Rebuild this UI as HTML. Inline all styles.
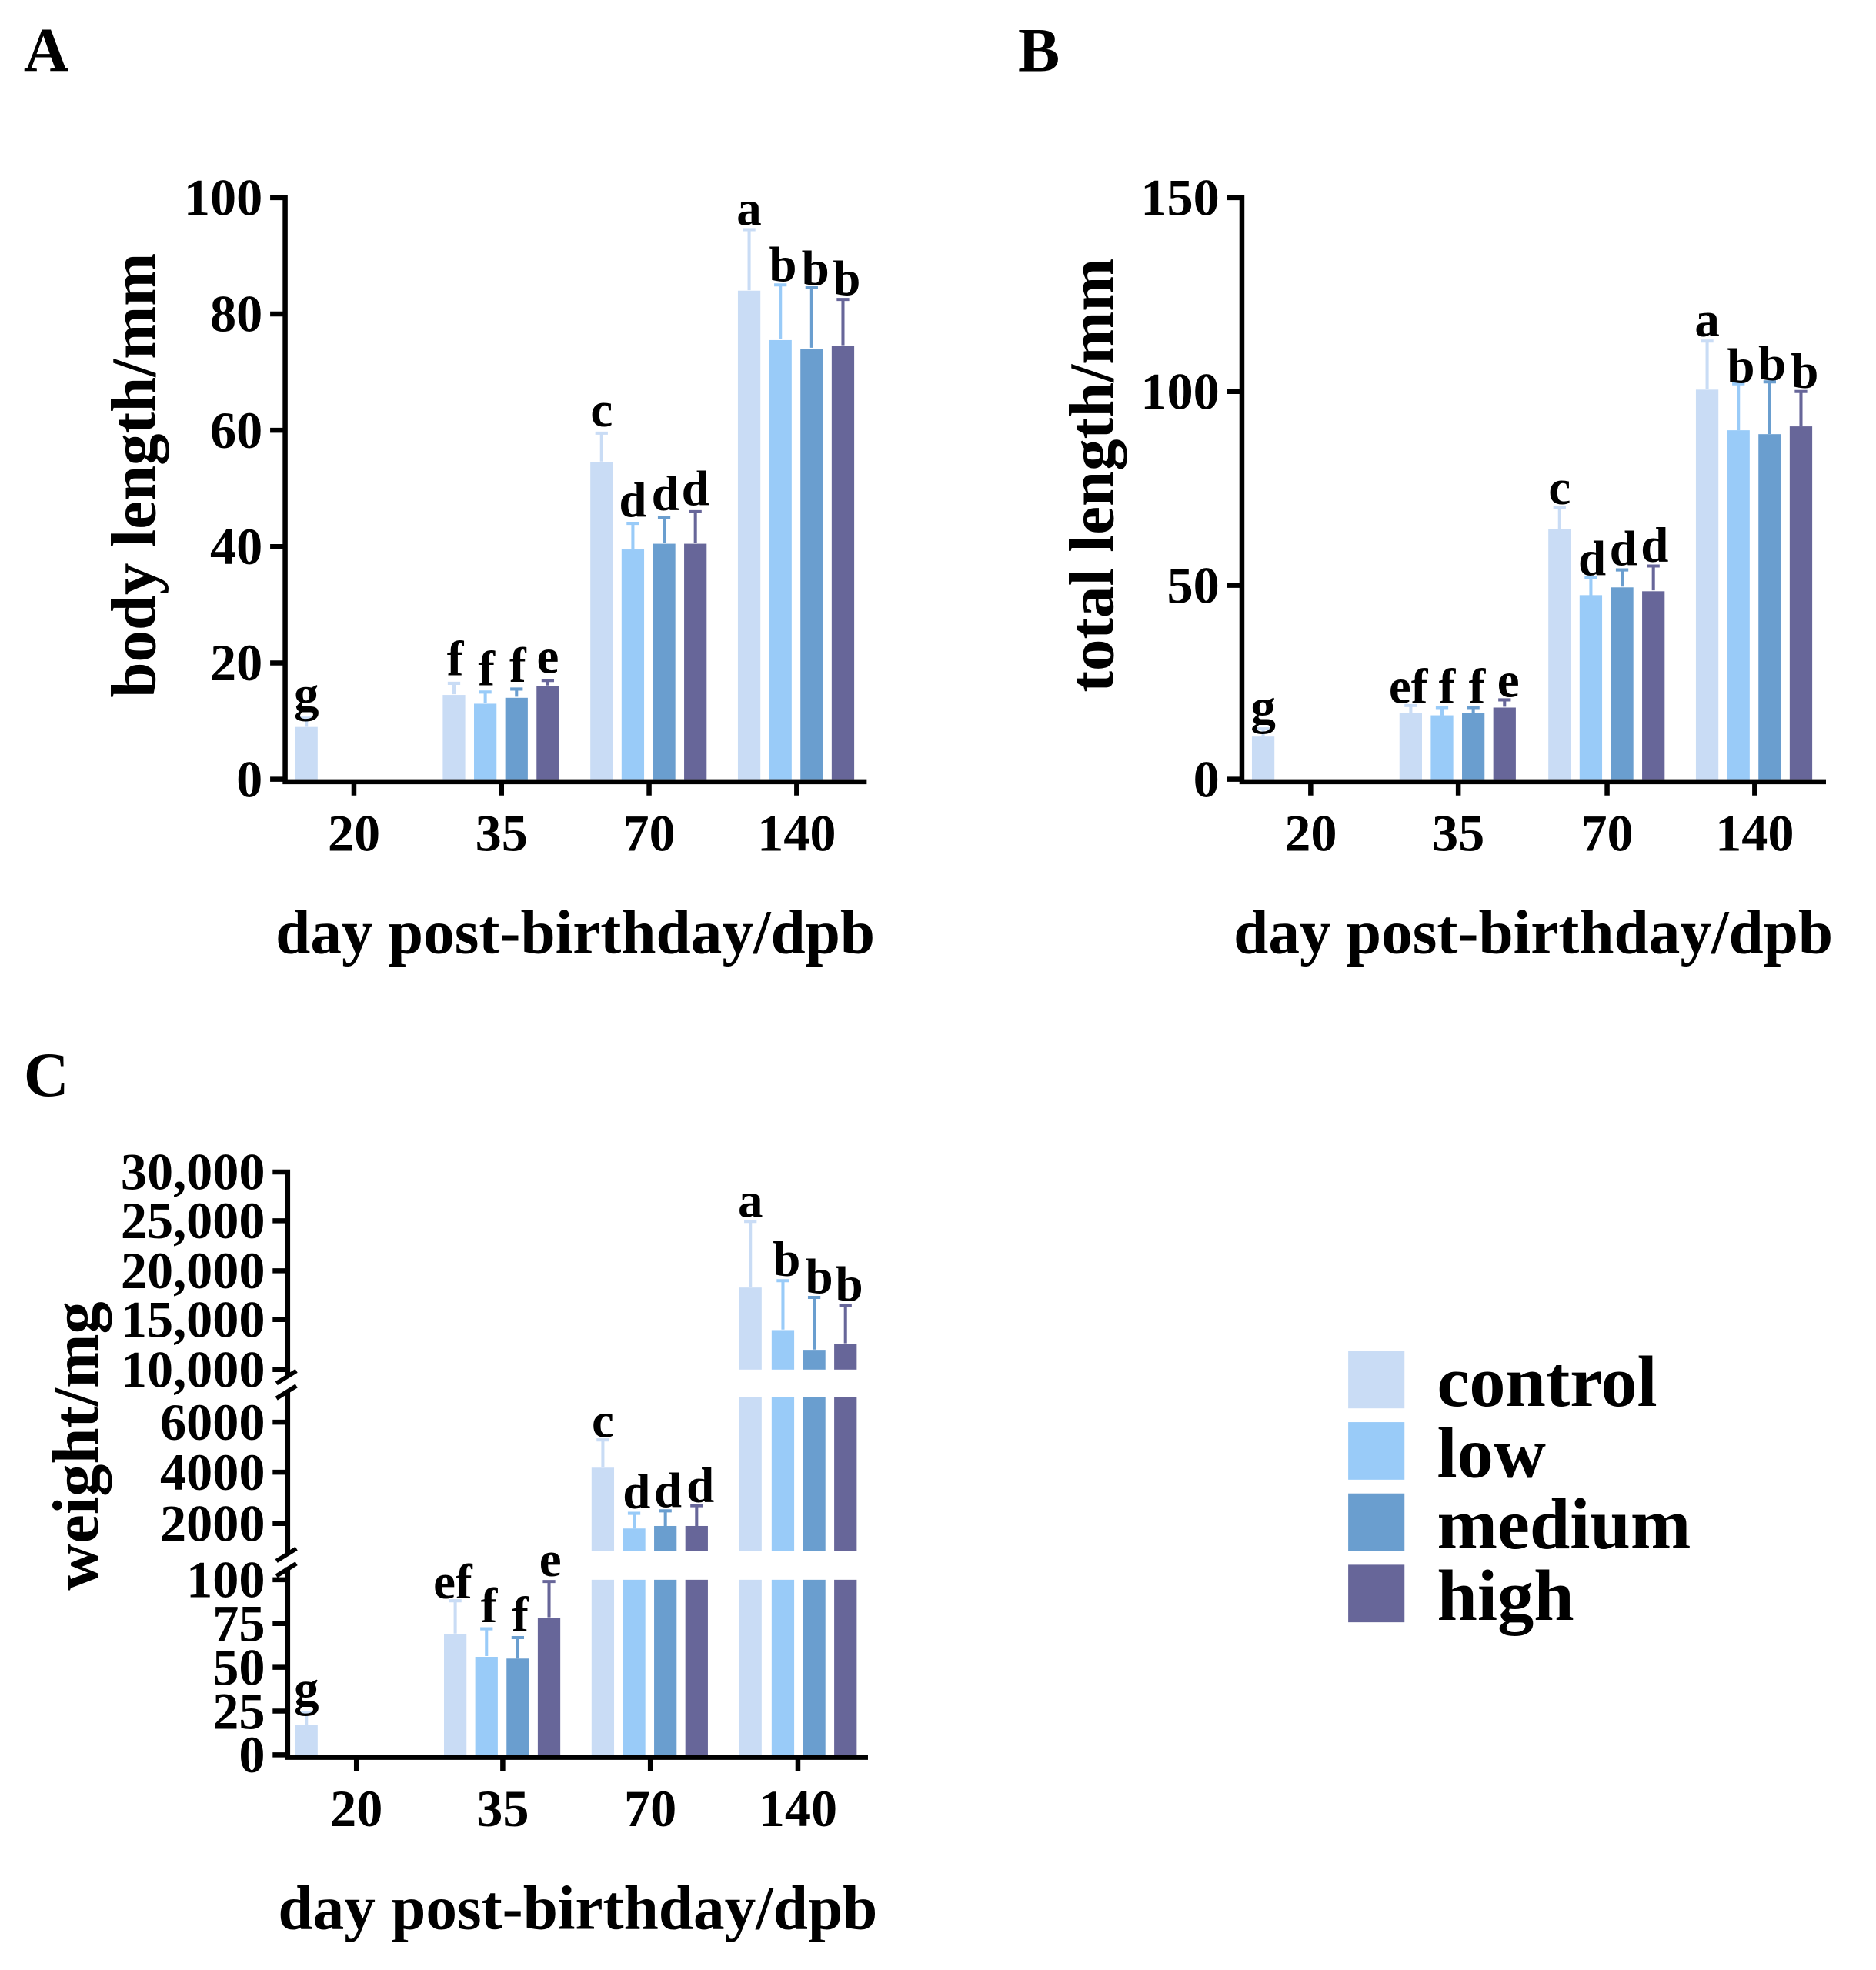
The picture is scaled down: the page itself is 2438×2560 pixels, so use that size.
<!DOCTYPE html>
<html><head><meta charset="utf-8"><style>html,body{margin:0;padding:0;background:#fff}svg{display:block}</style></head><body>
<svg width="2438" height="2560" viewBox="0 0 1500 1575" preserveAspectRatio="none" xmlns="http://www.w3.org/2000/svg" font-family="Liberation Serif, serif" font-weight="bold">
<rect width="1500" height="1575" fill="#fff"/>
<g font-size="50"><text x="19" y="57">A</text><text x="814" y="57">B</text><text x="19" y="876">C</text></g>

<!-- Panel A -->
<g>
<g fill="#c9dcf5"><rect x="236" y="581.2" width="18" height="41.8"/><rect x="354" y="555.6" width="18" height="67.4"/><rect x="472" y="369.6" width="18" height="253.4"/><rect x="590" y="232.4" width="18" height="390.6"/></g>
<g fill="#99cbf8"><rect x="379" y="562.6" width="18" height="60.4"/><rect x="497" y="439.3" width="18" height="183.7"/><rect x="615" y="271.9" width="18" height="351.1"/></g>
<g fill="#6a9ecf"><rect x="404" y="557.9" width="18" height="65.1"/><rect x="522" y="434.7" width="18" height="188.3"/><rect x="640" y="278.9" width="18" height="344.1"/></g>
<g fill="#676699"><rect x="429" y="548.6" width="18" height="74.4"/><rect x="547" y="434.7" width="18" height="188.3"/><rect x="665" y="276.6" width="18" height="346.4"/></g>
<g stroke-width="2.5" fill="none">
<path stroke="#c9dcf5" d="M245 581V574.2M240 574.2H250M363 555V546.3M358 546.3H368M481 369V346.3M476 346.3H486M599 232V183.6M594 183.6H604"/>
<path stroke="#99cbf8" d="M388 562V553.3M383 553.3H393M506 439V418.4M501 418.4H511M624 271V227.8M619 227.8H629"/>
<path stroke="#6a9ecf" d="M413 557V550.9M408 550.9H418M531 434V413.8M526 413.8H536M649 278V230.1M644 230.1H654"/>
<path stroke="#676699" d="M438 548V544M433 544H443M556 434V409.1M551 409.1H561M674 276V239.4M669 239.4H679"/>
</g>
<g font-size="40" text-anchor="middle">
<text x="245" y="568">g</text><text x="364" y="540">f</text><text x="389" y="548">f</text><text x="414" y="545">f</text><text x="438" y="538">e</text>
<text x="481" y="341">c</text><text x="506" y="413">d</text><text x="532" y="408">d</text><text x="556" y="404">d</text>
<text x="599" y="180">a</text><text x="626" y="225">b</text><text x="652" y="228">b</text><text x="677" y="236">b</text>
</g>
<path d="M228 156V625H693M216 158H228M216 251H228M216 344H228M216 437H228M216 530H228M216 623H228M283 623V636M401 623V636M519 623V636M637 623V636" stroke="#000" stroke-width="4" fill="none"/>
<g font-size="42" text-anchor="end"><text x="210" y="172">100</text><text x="210" y="265">80</text><text x="210" y="358">60</text><text x="210" y="451">40</text><text x="210" y="544">20</text><text x="210" y="637">0</text></g>
<g font-size="42" text-anchor="middle"><text x="283" y="680">20</text><text x="401" y="680">35</text><text x="519" y="680">70</text><text x="637" y="680">140</text></g>
<text x="460" y="762" font-size="50" text-anchor="middle">day post-birthday/dpb</text>
<text transform="translate(124,380) rotate(-90)" font-size="51" text-anchor="middle">body length/mm</text>
</g>

<!-- Panel B -->
<g>
<g fill="#c9dcf5"><rect x="1001" y="588.9" width="18" height="34.1"/><rect x="1119" y="570.3" width="18" height="52.7"/><rect x="1238" y="423.1" width="18" height="199.9"/><rect x="1356" y="311.5" width="18" height="311.5"/></g>
<g fill="#99cbf8"><rect x="1144" y="571.9" width="18" height="51.1"/><rect x="1263" y="475.8" width="18" height="147.2"/><rect x="1381" y="344" width="18" height="279"/></g>
<g fill="#6a9ecf"><rect x="1169" y="570.3" width="18" height="52.7"/><rect x="1288" y="469.6" width="18" height="153.4"/><rect x="1406" y="347.1" width="18" height="275.9"/></g>
<g fill="#676699"><rect x="1194" y="565.7" width="18" height="57.3"/><rect x="1313" y="472.7" width="18" height="150.3"/><rect x="1431" y="340.9" width="18" height="282.1"/></g>
<g stroke-width="2.5" fill="none">
<path stroke="#c9dcf5" d="M1010 589V582.7M1005 582.7H1015M1128 570V564.1M1123 564.1H1133M1247 423V406M1242 406H1252M1365 311V272.7M1360 272.7H1370"/>
<path stroke="#99cbf8" d="M1153 572V565.7M1148 565.7H1158M1272 476V461.8M1267 461.8H1277M1390 344V306.8M1385 306.8H1395"/>
<path stroke="#6a9ecf" d="M1178 570V565.7M1173 565.7H1183M1297 469V455.6M1292 455.6H1302M1415 347V305.3M1410 305.3H1420"/>
<path stroke="#676699" d="M1203 565V559.5M1198 559.5H1208M1322 472V452.5M1317 452.5H1327M1440 341V313M1435 313H1445"/>
</g>
<g font-size="40" text-anchor="middle">
<text x="1126" y="562">ef</text><text x="1010" y="578">g</text><text x="1157" y="562">f</text><text x="1181" y="562">f</text><text x="1206" y="557">e</text>
<text x="1247" y="403">c</text><text x="1273" y="460">d</text><text x="1298" y="452">d</text><text x="1323" y="449">d</text>
<text x="1365" y="269">a</text><text x="1392" y="306">b</text><text x="1417" y="304">b</text><text x="1443" y="310">b</text>
</g>
<path d="M993 156V625H1460M981 158H993M981 313H993M981 468H993M981 623H993M1048 623V636M1166 623V636M1285 623V636M1403 623V636" stroke="#000" stroke-width="4" fill="none"/>
<g font-size="42" text-anchor="end"><text x="975" y="172">150</text><text x="975" y="327">100</text><text x="975" y="482">50</text><text x="975" y="637">0</text></g>
<g font-size="42" text-anchor="middle"><text x="1048" y="680">20</text><text x="1166" y="680">35</text><text x="1285" y="680">70</text><text x="1403" y="680">140</text></g>
<text x="1226" y="762" font-size="50" text-anchor="middle">day post-birthday/dpb</text>
<text transform="translate(890,380) rotate(-90)" font-size="51" text-anchor="middle">total length/mm</text>
</g>

<!-- Panel C -->
<g>
<g fill="#c9dcf5"><rect x="236" y="1379.2" width="18" height="23.8"/><rect x="355" y="1306.4" width="18" height="96.6"/><rect x="473" y="1263" width="18" height="140"/><rect x="473" y="1173.4" width="18" height="66.6"/><rect x="591" y="1263" width="18" height="140"/><rect x="591" y="1117" width="18" height="123"/><rect x="591" y="1029.4" width="18" height="65.6"/></g>
<g fill="#99cbf8"><rect x="380" y="1324.6" width="18" height="78.4"/><rect x="498" y="1263" width="18" height="140"/><rect x="498" y="1222" width="18" height="18"/><rect x="617" y="1263" width="18" height="140"/><rect x="617" y="1117" width="18" height="123"/><rect x="617" y="1063.4" width="18" height="31.6"/></g>
<g fill="#6a9ecf"><rect x="405" y="1326" width="18" height="77"/><rect x="523" y="1263" width="18" height="140"/><rect x="523" y="1220" width="18" height="20"/><rect x="642" y="1263" width="18" height="140"/><rect x="642" y="1117" width="18" height="123"/><rect x="642" y="1079.2" width="18" height="15.8"/></g>
<g fill="#676699"><rect x="430" y="1293.8" width="18" height="109.2"/><rect x="548" y="1263" width="18" height="140"/><rect x="548" y="1220" width="18" height="20"/><rect x="667" y="1263" width="18" height="140"/><rect x="667" y="1117" width="18" height="123"/><rect x="667" y="1074.5" width="18" height="20.5"/></g>
<g stroke-width="2.5" fill="none">
<path stroke="#c9dcf5" d="M245 1379V1369.4M240 1369.4H250M364 1306V1279.8M359 1279.8H369M482 1173V1151.2M477 1151.2H487M600 1029V976.5M595 976.5H605"/>
<path stroke="#99cbf8" d="M389 1324V1302.2M384 1302.2H394M507 1222V1209.9M502 1209.9H512M626 1063V1023.9M621 1023.9H631"/>
<path stroke="#6a9ecf" d="M414 1326V1309.2M409 1309.2H419M532 1220V1207.9M527 1207.9H537M651 1079V1037.3M646 1037.3H656"/>
<path stroke="#676699" d="M439 1293V1264.4M434 1264.4H444M557 1220V1203.8M552 1203.8H562M676 1074V1043.6M671 1043.6H681"/>
</g>
<g font-size="40" text-anchor="middle">
<text x="245" y="1363">g</text><text x="362" y="1278">ef</text><text x="391" y="1297">f</text><text x="416" y="1304">f</text><text x="440" y="1260">e</text>
<text x="482" y="1149">c</text><text x="509" y="1206">d</text><text x="534" y="1205">d</text><text x="560" y="1201">d</text>
<text x="600" y="973">a</text><text x="629" y="1020">b</text><text x="655" y="1034">b</text><text x="679" y="1040">b</text>
</g>
<path d="M230 935V1100M230 1112V1242M230 1253V1405H694M218 937H230M218 976H230M218 1016H230M218 1055H230M218 1095H230M218 1137H230M218 1177H230M218 1218H230M218 1263H230M218 1298H230M218 1333H230M218 1368H230M218 1403H230M285 1403V1416M402 1403V1416M520 1403V1416M638 1403V1416" stroke="#000" stroke-width="4" fill="none"/>
<path d="M221 1106L237 1096M221 1118L237 1108M221 1248L237 1238M221 1260L237 1250" stroke="#000" stroke-width="3.5"/>
<g font-size="42" text-anchor="end"><text x="212" y="951">30,000</text><text x="212" y="990">25,000</text><text x="212" y="1030">20,000</text><text x="212" y="1069">15,000</text><text x="212" y="1109">10,000</text><text x="212" y="1151">6000</text><text x="212" y="1191">4000</text><text x="212" y="1232">2000</text><text x="212" y="1277">100</text><text x="212" y="1312">75</text><text x="212" y="1347">50</text><text x="212" y="1382">25</text><text x="212" y="1417">0</text></g>
<g font-size="42" text-anchor="middle"><text x="285" y="1460">20</text><text x="402" y="1460">35</text><text x="520" y="1460">70</text><text x="638" y="1460">140</text></g>
<text x="462" y="1542" font-size="50" text-anchor="middle">day post-birthday/dpb</text>
<text transform="translate(78,1156) rotate(-90)" font-size="52" text-anchor="middle">weight/mg</text>
</g>

<!-- Legend -->
<rect x="1078" y="1080" width="45" height="46" fill="#c9dcf5"/>
<rect x="1078" y="1137" width="45" height="46" fill="#99cbf8"/>
<rect x="1078" y="1194" width="45" height="46" fill="#6a9ecf"/>
<rect x="1078" y="1251" width="45" height="46" fill="#676699"/>
<g font-size="58"><text x="1149" y="1124">control</text><text x="1149" y="1181">low</text><text x="1149" y="1238">medium</text><text x="1149" y="1295">high</text></g>
</svg>
</body></html>
